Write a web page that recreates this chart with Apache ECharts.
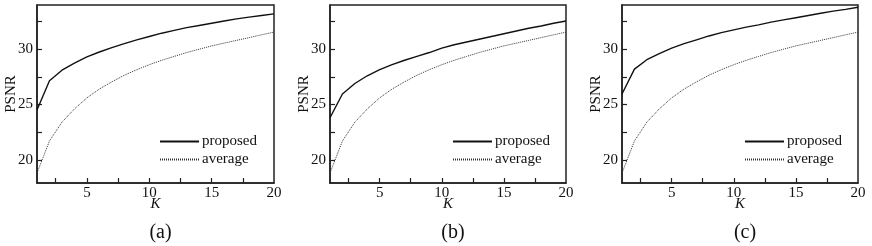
<!DOCTYPE html>
<html>
<head>
<meta charset="utf-8">
<script src="https://cdn.jsdelivr.net/npm/echarts@6/dist/echarts.min.js"></script>
<style>html,body{margin:0;padding:0;background:#fff}#c{width:872px;height:246px}</style>
</head>
<body>
<div id="c"></div>
<script>
var K = [1,2,3,4,5,6,7,8,9,10,11,12,13,14,15,16,17,18,19,20];
var averageVals = [18.8,21.7,23.4,24.6,25.6,26.4,27.05,27.65,28.15,28.6,29.0,29.35,29.7,30.0,30.3,30.55,30.8,31.05,31.3,31.55];
var proposedA = [24.5,27.15,28.1,28.75,29.3,29.75,30.15,30.5,30.85,31.15,31.45,31.7,31.95,32.15,32.35,32.55,32.75,32.9,33.05,33.2];
var proposedB = [23.8,25.95,26.9,27.6,28.15,28.6,29.0,29.35,29.7,30.1,30.4,30.65,30.9,31.15,31.4,31.65,31.9,32.1,32.35,32.55];
var proposedC = [25.95,28.2,29.05,29.6,30.1,30.5,30.85,31.2,31.5,31.75,32.0,32.2,32.45,32.65,32.85,33.05,33.25,33.45,33.6,33.8];
var panelTitles = ['(a)','(b)','(c)'];
var xTickVals = [2.5,5,7.5,10,12.5,15,17.5];
var xLabelVals = [5,10,15,20];
var yTickVals = [20,22.5,25,27.5,30,32.5];
var yLabelVals = [20,25,30];

var FONT = 'Liberation Serif';
var proposedSets = [proposedA, proposedB, proposedC];
var grids = [{left:37,width:237},{left:330,width:236},{left:622,width:236}];

function pairs(vals){ return K.map(function(k,i){ return [k, vals[i]]; }); }

var option = {
  animation: false,
  backgroundColor: '#fff',
  title: [], legend: [], grid: [], xAxis: [], yAxis: [], series: []
};

grids.forEach(function(g, i){
  option.grid.push({left:g.left, top:5, width:g.width, height:178, show:true, borderColor:'#222', borderWidth:1.5, backgroundColor:'transparent'});
  option.xAxis.push({
    type:'value', gridIndex:i, min:1, max:20,
    name:'K', nameLocation:'middle', nameGap:14, nameMoveOverlap:false,
    nameTextStyle:{fontFamily:FONT, fontSize:15, fontStyle:'italic', color:'#111'},
    axisLine:{lineStyle:{color:'#222', width:1.5}},
    axisTick:{inside:true, length:5, customValues:xTickVals, lineStyle:{color:'#222', width:1.2}},
    axisLabel:{customValues:xLabelVals, fontFamily:FONT, fontSize:15, color:'#111', margin:3},
    splitLine:{show:false}
  });
  option.yAxis.push({
    type:'value', gridIndex:i, min:17.9, max:34,
    name:'PSNR', nameLocation:'middle', nameGap:18, nameMoveOverlap:false,
    nameTextStyle:{fontFamily:FONT, fontSize:15, color:'#111'},
    axisLine:{lineStyle:{color:'#222', width:1.5}},
    axisTick:{inside:true, length:5, customValues:yTickVals, lineStyle:{color:'#222', width:1.2}},
    axisLabel:{customValues:yLabelVals, fontFamily:FONT, fontSize:15, color:'#111', margin:4},
    splitLine:{show:false}
  });
  option.series.push({
    name:'proposed', type:'line', xAxisIndex:i, yAxisIndex:i, data:pairs(proposedSets[i]),
    symbol:'none', showSymbol:false, smooth:false, lineStyle:{color:'#111', width:1.4}, itemStyle:{color:'#111'}
  });
  option.series.push({
    name:'average', type:'line', xAxisIndex:i, yAxisIndex:i, data:pairs(averageVals),
    symbol:'none', showSymbol:false, smooth:false, lineStyle:{color:'#333', width:1, type:[1,1]}, itemStyle:{color:'#333'}
  });
  option.legend.push({
    left:g.left+117, top:129, orient:'vertical', itemWidth:39, itemHeight:14, itemGap:3,
    data:['proposed','average'],
    itemStyle:{opacity:0},
    textStyle:{fontFamily:FONT, fontSize:15, color:'#111', padding:[0,0,0,-2]},
    selectedMode:false
  });
  option.title.push({
    text:panelTitles[i], left:g.left + g.width/2, top:218, textAlign:'center',
    textStyle:{fontFamily:FONT, fontSize:20, fontWeight:'normal', color:'#111'}
  });
});

var chart = echarts.init(document.getElementById('c'), null, {renderer:'canvas'});
chart.setOption(option);
</script>
</body>
</html>
